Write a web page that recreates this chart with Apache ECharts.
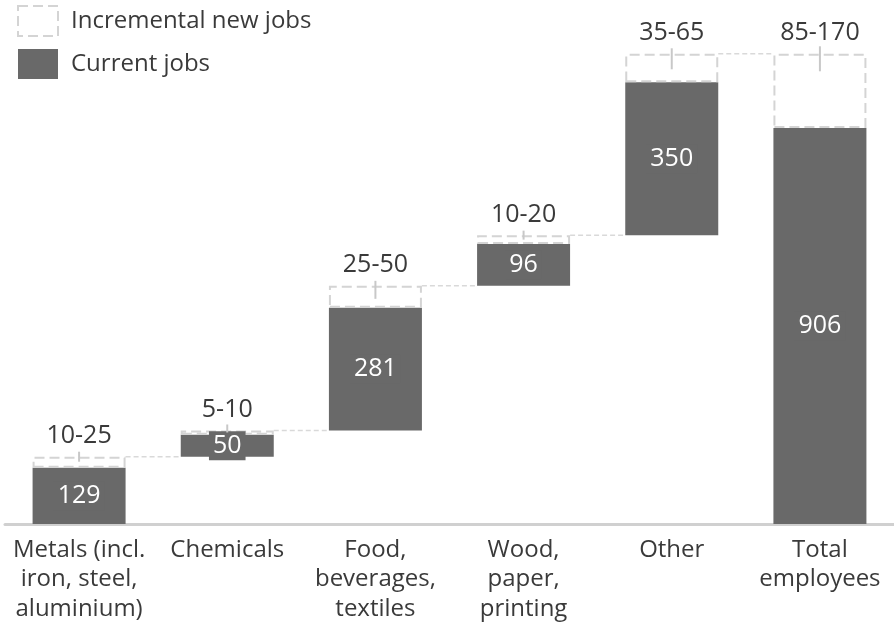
<!DOCTYPE html>
<html>
<head>
<meta charset="utf-8">
<script src="https://cdn.jsdelivr.net/npm/echarts@6/dist/echarts.min.js"></script>
<style>
html,body{margin:0;padding:0;background:#fff;}
#chart{width:894px;height:625px;}
</style>
</head>
<body>
<div id="chart"></div>
<script>
const categories = ['Metals (incl.\niron, steel,\naluminium)', 'Chemicals', 'Food,\nbeverages,\ntextiles', 'Wood,\npaper,\nprinting', 'Other', 'Total\nemployees'];
const currentJobs = [129, 50, 281, 96, 350, 906];
const newJobsLow = [10, 5, 25, 10, 35, 85];
const newJobsHigh = [25, 10, 50, 20, 65, 170];

// derived waterfall bases
const base = [];
let run = 0;
for (let i = 0; i < currentJobs.length; i++) {
  if (i === currentJobs.length - 1) { base.push(0); }
  else { base.push(run); run += currentJobs[i] + newJobsHigh[i]; }
}
const tops = currentJobs.map((v, i) => base[i] + v + newJobsHigh[i]);
const rangeLabels = newJobsLow.map((lo, i) => lo + '-' + newJobsHigh[i]);

// styles
const BAR_W = 93;
const DARK = '#696969';
const DASH = '#d4d4d4';
const FONT = 'Open Sans';
const TEXT = '#3a3a3a';
const tickLen = [10, 8, 18, 9, 21, 25];
const tickOff = [0, -2, 4, 0, 5, 5];

const chart = echarts.init(document.getElementById('chart'), null, {renderer: 'canvas'});
chart.setOption({
  animation: false,
  backgroundColor: '#fff',
  textStyle: {fontFamily: FONT},
  grid: {left: 5, right: -3, top: 43.3, bottom: 101, containLabel: false},
  legend: {
    orient: 'vertical', left: 12, top: 0, itemWidth: 40, itemHeight: 30, itemGap: 12,
    selectedMode: false,
    textStyle: {fontSize: 24, color: TEXT, fontFamily: FONT, padding: [0, 0, 0, 8]},
    data: [
      {name: 'Incremental new jobs', icon: 'rect', itemStyle: {color: '#fff', borderColor: DASH, borderWidth: 2, borderType: [10, 5]}},
      {name: 'Current jobs', icon: 'rect', itemStyle: {color: DARK}}
    ]
  },
  xAxis: {
    type: 'category', data: categories,
    axisLine: {lineStyle: {color: '#d0d0d0', width: 3}},
    axisTick: {show: false},
    axisLabel: {fontSize: 24, lineHeight: 29.5, color: TEXT, margin: 11, fontFamily: FONT, interval: 0}
  },
  yAxis: {type: 'value', min: 0, max: 1100, show: false, splitLine: {show: false}},
  series: [
    {
      name: 'base', type: 'bar', stack: 'w', barWidth: BAR_W, silent: true,
      itemStyle: {color: 'transparent'}, data: base
    },
    {
      name: 'Current jobs', type: 'bar', stack: 'w', barWidth: BAR_W,
      itemStyle: {color: DARK},
      label: {show: true, position: 'inside', color: '#fff', fontSize: 25, fontFamily: FONT,
        backgroundColor: DARK, padding: [2, 4]},
      data: currentJobs
    },
    {
      name: 'Incremental new jobs', type: 'bar', stack: 'w', barWidth: BAR_W,
      itemStyle: {color: 'rgba(255,255,255,0)', borderColor: DASH, borderWidth: 2, borderType: [10, 5]},
      label: {show: true, position: 'top', distance: 8, color: TEXT, fontSize: 25, fontFamily: FONT,
        formatter: p => rangeLabels[p.dataIndex]},
      data: newJobsHigh
    },
    {
      name: 'connectors', type: 'custom', silent: true, z: 1,
      data: tops.slice(0, tops.length - 1).map((v, i) => [i, v]),
      renderItem: function (params, api) {
        const i = api.value(0), v = api.value(1);
        const p1 = api.coord([i, v]);
        const p2 = api.coord([i + 1, v]);
        return {
          type: 'line',
          shape: {x1: p1[0] + BAR_W / 2, y1: p1[1], x2: p2[0] - BAR_W / 2, y2: p2[1]},
          style: {stroke: '#d9d9d9', lineWidth: 1.5, lineDash: [5, 3]}
        };
      }
    },
    {
      name: 'ticks', type: 'custom', silent: true, z: 3,
      data: tops.map((v, i) => [i, v]),
      renderItem: function (params, api) {
        const i = api.value(0), v = api.value(1);
        const p = api.coord([i, v]);
        const len = tickLen[i], off = tickOff[i];
        return {
          type: 'line',
          shape: {x1: p[0], y1: p[1] + off - len / 2, x2: p[0], y2: p[1] + off + len / 2},
          style: {stroke: '#c8c8c8', lineWidth: 2}
        };
      }
    }
  ]
});
</script>
</body>
</html>
